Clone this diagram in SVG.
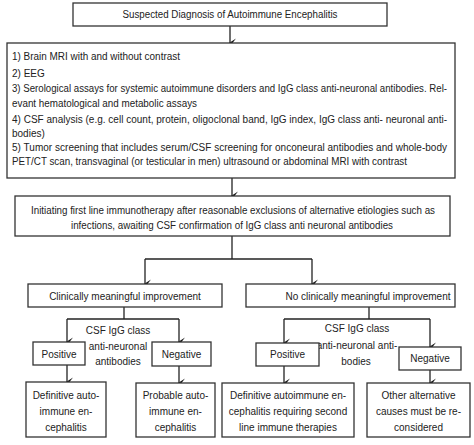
<svg xmlns="http://www.w3.org/2000/svg" width="474" height="445" viewBox="0 0 474 445">
<defs>
<marker id="ah" markerWidth="10" markerHeight="10" refX="5" refY="8" orient="auto-start-reverse" markerUnits="userSpaceOnUse" viewBox="0 0 10 10">
<path d="M0.5,2 L5,9 L9.5,2 L5,5.5 Z" fill="#1a1a1a"/>
</marker>
<style>
rect{fill:#fff;stroke:#333;stroke-width:1.3}
text{font-family:"Liberation Sans",Arial,sans-serif;font-size:10px;fill:#222}
.c{text-anchor:middle}
.ln{fill:none;stroke:#222;stroke-width:1.3}
.ar{fill:none;stroke:#222;stroke-width:1.3;marker-end:url(#ah)}
</style>
</defs>
<rect width="474" height="445" style="fill:#fff;stroke:none"/>
<g id="connectors">
<line class="ar" x1="230" y1="26" x2="230" y2="43"/>
<line class="ar" x1="232" y1="178" x2="232" y2="196"/>
<polyline class="ln" points="232,236 232,259"/>
<polyline class="ln" points="145,259 312,259"/>
<line class="ar" x1="145" y1="259" x2="145" y2="284"/>
<line class="ar" x1="312" y1="259" x2="312" y2="284"/>
<line class="ln" x1="124" y1="307" x2="124" y2="319"/>
<line class="ln" x1="67" y1="319" x2="179" y2="319"/>
<line class="ar" x1="67" y1="319" x2="67" y2="342"/>
<line class="ar" x1="179" y1="319" x2="179" y2="342"/>
<line class="ar" x1="67" y1="365" x2="67" y2="382"/>
<line class="ar" x1="179" y1="366" x2="179" y2="383"/>
<line class="ln" x1="369" y1="307" x2="369" y2="319"/>
<line class="ln" x1="284" y1="319" x2="430" y2="319"/>
<line class="ar" x1="284" y1="319" x2="284" y2="343"/>
<line class="ar" x1="430" y1="319" x2="430" y2="347"/>
<line class="ar" x1="284" y1="366" x2="284" y2="383"/>
<line class="ar" x1="430" y1="370" x2="430" y2="383"/>
</g>
<g id="n1">
<rect x="73" y="3" width="314" height="23"/>
<text class="c" x="230" y="18" textLength="215" lengthAdjust="spacingAndGlyphs">Suspected Diagnosis of Autoimmune Encephalitis</text>
</g>
<g id="n2">
<rect x="7" y="43" width="448" height="135"/>
<text x="12" y="59.5" textLength="168" lengthAdjust="spacingAndGlyphs">1) Brain MRI with and without contrast</text>
<text x="12" y="76.5">2) EEG</text>
<text x="12" y="91.5" textLength="435" lengthAdjust="spacingAndGlyphs">3) Serological assays for systemic autoimmune disorders and IgG class anti-neuronal antibodies. Rel-</text>
<text x="12" y="106.5" textLength="185" lengthAdjust="spacingAndGlyphs">evant hematological and metabolic assays</text>
<text x="12" y="122.5" textLength="435" lengthAdjust="spacing">4) CSF analysis (e.g. cell count, protein, oligoclonal band, IgG index, IgG class anti- neuronal anti-</text>
<text x="12" y="136.5">bodies)</text>
<text x="12" y="150.5" textLength="435" lengthAdjust="spacing">5) Tumor screening that includes serum/CSF screening for onconeural antibodies and whole-body</text>
<text x="12" y="164.5" textLength="395" lengthAdjust="spacingAndGlyphs">PET/CT scan, transvaginal (or testicular in men) ultrasound or abdominal MRI with contrast</text>
</g>
<g id="n3">
<rect x="15" y="196" width="435" height="40"/>
<text class="c" x="233" y="213.5" textLength="404" lengthAdjust="spacingAndGlyphs">Initiating first line immunotherapy after reasonable exclusions of alternative etiologies such as</text>
<text class="c" x="232" y="228.5" textLength="322" lengthAdjust="spacingAndGlyphs">infections, awaiting CSF confirmation of IgG class anti neuronal antibodies</text>
</g>
<g id="n4">
<rect x="28" y="284" width="194" height="23"/>
<text class="c" x="125" y="299.5">Clinically meaningful improvement</text>
</g>
<g id="n5">
<rect x="246" y="284" width="209" height="23"/>
<text class="c" x="368" y="299.5">No clinically meaningful improvement</text>
</g>
<g id="lbl-left">
<text class="c" x="118" y="333.5">CSF IgG class</text>
<text class="c" x="118" y="349.5">anti-neuronal</text>
<text class="c" x="118" y="364.5">antibodies</text>
</g>
<g id="lbl-right">
<text class="c" x="357" y="331.5">CSF IgG class</text>
<text class="c" x="357" y="348.5">anti-neuronal anti-</text>
<text class="c" x="356" y="364.5">bodies</text>
</g>
<g id="n6">
<rect x="33" y="342" width="52" height="23"/>
<text class="c" x="59" y="357.5">Positive</text>
</g>
<g id="n7">
<rect x="152" y="342" width="59" height="24"/>
<text class="c" x="181.5" y="357.5">Negative</text>
</g>
<g id="n8">
<rect x="256" y="343" width="63" height="23"/>
<text class="c" x="287.5" y="358">Positive</text>
</g>
<g id="n9">
<rect x="399" y="347" width="62" height="23"/>
<text class="c" x="430" y="362">Negative</text>
</g>
<g id="n10">
<rect x="26" y="382" width="80" height="55"/>
<text class="c" x="66" y="398.5">Definitive auto-</text>
<text class="c" x="66" y="414.5">immune en-</text>
<text class="c" x="66" y="430.5">cephalitis</text>
</g>
<g id="n11">
<rect x="136" y="383" width="79" height="54"/>
<text class="c" x="175.5" y="398.5">Probable auto-</text>
<text class="c" x="175.5" y="414.5">immune en-</text>
<text class="c" x="175.5" y="430.5">cephalitis</text>
</g>
<g id="n12">
<rect x="222" y="383" width="132" height="54"/>
<text class="c" x="288" y="398.5">Definitive autoimmune en-</text>
<text class="c" x="288" y="414.5">cephalitis requiring second</text>
<text class="c" x="288" y="430.5">line immune therapies</text>
</g>
<g id="n13">
<rect x="367" y="383" width="103" height="54"/>
<text class="c" x="418.5" y="398.5">Other alternative</text>
<text class="c" x="418.5" y="414.5">causes must be re-</text>
<text class="c" x="418.5" y="430.5">considered</text>
</g>
</svg>
